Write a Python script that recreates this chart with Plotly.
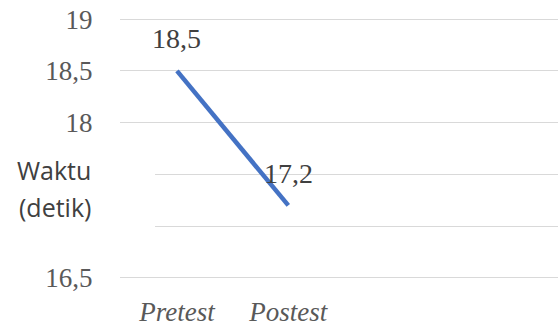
import plotly.graph_objects as go

categories = ["Pretest", "Postest"]
values = [18.5, 17.2]
tick_vals = [16.5, 17, 17.5, 18, 18.5, 19]
tick_text = ["16,5", "", "", "18", "18,5", "19"]
axis_title = ["Waktu", "(detik)"]

SERIF = "Liberation Serif"
labels = [f"{v:g}".replace(".", ",") for v in values]

fig = go.Figure()
fig.add_trace(go.Scatter(
    x=categories, y=values, mode="lines",
    line=dict(color="#4472C4", width=4.5),
    cliponaxis=False, hoverinfo="skip", showlegend=False,
))

annotations = [
    dict(text=lab, x=c, y=v, xref="x", yref="y", yshift=32,
         xanchor="center", yanchor="middle", showarrow=False,
         font=dict(family=SERIF, size=28, color="#404040"))
    for c, v, lab in zip(categories, values, labels)
]
annotations += [
    dict(text=axis_title[0], xref="paper", yref="paper",
         x=-0.0616, y=0.42, xanchor="right", yanchor="middle",
         showarrow=False,
         font=dict(family="Open Sans", size=25, color="#404040")),
    dict(text=axis_title[1], xref="paper", yref="paper",
         x=-0.0616, y=0.2825, xanchor="right", yanchor="middle",
         showarrow=False,
         font=dict(family="Open Sans", size=25, color="#404040")),
]

fig.update_layout(
    width=558, height=327,
    margin=dict(l=120, r=0, t=14, b=44),
    paper_bgcolor="white", plot_bgcolor="white",
    xaxis=dict(
        type="category", range=[-0.512, 3.423], automargin=False,
        tickmode="array", tickvals=categories,
        ticktext=[f"<i>{c}</i>" for c in categories],
        showgrid=False, zeroline=False, showline=False,
        ticks="outside", ticklen=5, tickcolor="rgba(0,0,0,0)",
        tickfont=dict(family=SERIF, size=27, color="#595959"),
    ),
    yaxis=dict(
        range=[16.45, 19.05], automargin=False,
        tickmode="array", tickvals=tick_vals, ticktext=tick_text,
        showgrid=True, gridcolor="#D9D9D9", gridwidth=1,
        zeroline=False, showline=False,
        ticks="outside", ticklen=21, tickcolor="rgba(0,0,0,0)",
        tickfont=dict(family=SERIF, size=27, color="#595959"),
    ),
    shapes=[dict(
        type="rect", xref="paper", yref="y",
        x0=-0.01, x1=0.08, y0=16.8, y1=17.7,
        fillcolor="white", line=dict(width=0), layer="above",
    )],
    annotations=annotations,
)

fig.write_html("out.html")
